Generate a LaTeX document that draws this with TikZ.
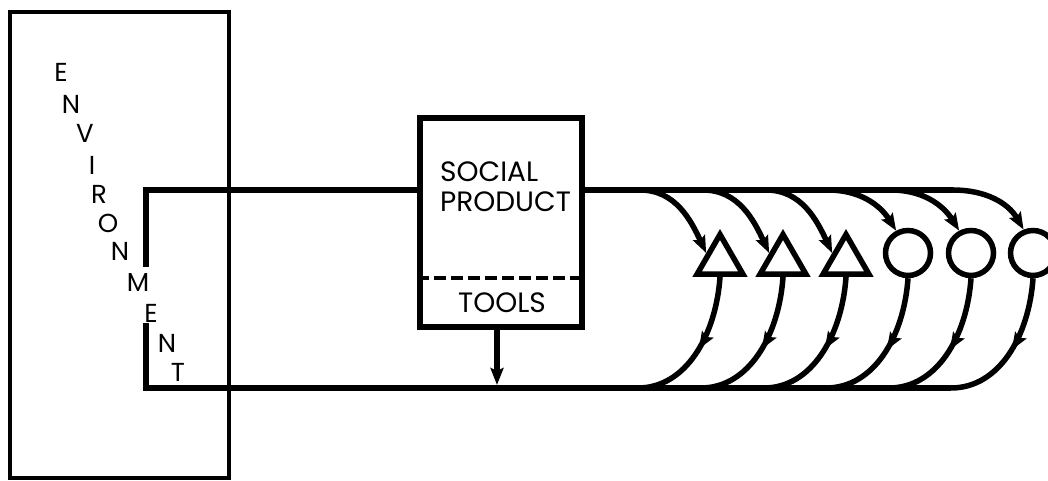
\documentclass[tikz,border=0pt]{standalone}
\usepackage{fontspec}
\setmainfont{Poppins}
\usetikzlibrary{arrows.meta,positioning,calc,shapes.geometric,decorations.markings}

\begin{document}
\begin{tikzpicture}[x=1pt,y=1pt,
  flow/.style={line width=5.5pt},
  arrowend/.style={-{Stealth[length=17pt,width=13pt,inset=3pt]}},
  midarrow/.style={postaction={decorate},decoration={markings,
    mark=at position 0.5 with {\arrow{Stealth[length=17pt,width=13pt,inset=3pt]}}}},
  tri/.style={draw,line width=5.5pt,regular polygon,regular polygon sides=3,minimum size=53pt,inner sep=0pt},
  ring/.style={draw,line width=5.5pt,circle,minimum size=45pt,inner sep=0pt},
  letter/.style={font=\fontsize{26}{30}\selectfont,inner sep=0pt},
  boxtext/.style={font=\fontsize{28}{30}\selectfont,inner sep=0pt}]
\useasboundingbox (0,0) rectangle (1048,481);
\clip (0,0) rectangle (1048,481);

% environment block
\node[draw,line width=4.5pt,minimum width=219pt,minimum height=466pt,inner sep=0pt] (env) at (119.5,236) {};
\foreach \l/\x/\y [count=\i] in {E/61/409,N/71/377,V/85/348,I/92/316,R/99/287,O/108/258,
    N/120/230,M/138/198,E/151/168,N/167/138,T/178/109}
  \node[letter] (env\i) at (\x,\y) {\l};

% social product block
\node[draw,line width=5.5pt,minimum width=162pt,minimum height=209pt,inner sep=0pt] (prod) at (501,258.5) {};
\node[boxtext,align=left,anchor=west] (soc) at (440,294) {SOCIAL\\PRODUCT};
\node[boxtext] (tools) at (502,178) {TOOLS};
\coordinate (dash) at (0,203);
\draw[line width=4pt,dash pattern=on 12pt off 5pt] (prod.west |- dash) -- (prod.east |- dash);

% products
\node[tri] (ta) at (720,220) {};
\node[tri] (tb) at (783,220) {};
\node[tri] (tc) at (846,220) {};
\node[ring] (ca) at (908,228) {};
\node[ring] (cb) at (971,228) {};
\node[ring] (cc) at (1033,228) {};

\foreach \s/\x/\e/\a in {ta/720/side 1/115,tb/783/side 1/115,tc/846/side 1/115,
    ca/908/118/122,cb/971/118/122,cc/1033/112/120} {
  \coordinate (top\s) at (\x-80,291);
  \coordinate (bot\s) at (\x-82,93);
  \draw[flow,arrowend] (top\s) to[out=0,in=\a] (\s.\e);
  \draw[flow,midarrow] (\s.south) .. controls +(-4,-58) and +(48,0) .. (bot\s);
}

% loop
\coordinate (tl) at (146,291);
\coordinate (bl) at (146,93);
\coordinate (gapa) at (146,214);
\coordinate (gapb) at (146,158);
\coordinate (drop) at (497,96);
\draw[flow] (prod.west |- tl) -- (tl) -- (gapa);
\draw[flow] (gapb) -- (bl) -- (botcc);
\draw[flow] (prod.east |- tl) -- (topcc);
\draw[flow,arrowend] (prod.south -| drop) -- (drop);
\end{tikzpicture}
\end{document}
